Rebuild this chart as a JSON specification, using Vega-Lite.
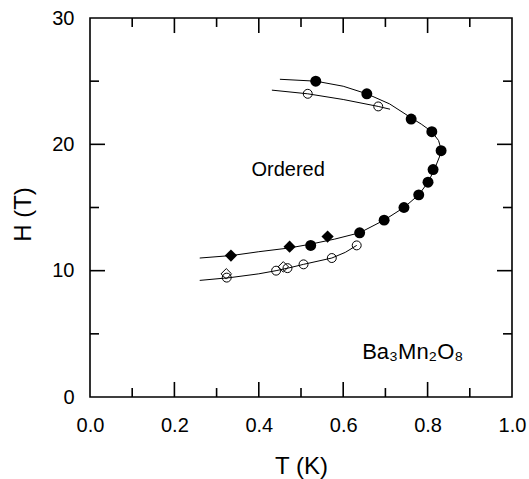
{
  "$schema": "https://vega.github.io/schema/vega-lite/v6.json",
  "width": 422,
  "height": 379,
  "autosize": "none",
  "padding": {"left": 90, "top": 18, "right": 17, "bottom": 82},
  "background": "white",
  "config": {
    "view": {"stroke": "black", "strokeWidth": 1.6},
    "axis": {
      "domain": false,
      "grid": false,
      "ticks": false,
      "labelColor": "black",
      "labelFont": "Liberation Sans",
      "labelFontSize": 20,
      "titleFont": "Liberation Sans",
      "titleFontSize": 24,
      "titleFontWeight": "normal",
      "titleColor": "black"
    }
  },
  "datasets": {
    "tickLines": [
      {"tick": "b0.1", "T": 0.1, "H": 0}, {"tick": "b0.1", "T": 0.1, "H": 0.71},
      {"tick": "b0.2", "T": 0.2, "H": 0}, {"tick": "b0.2", "T": 0.2, "H": 1.19},
      {"tick": "b0.3", "T": 0.3, "H": 0}, {"tick": "b0.3", "T": 0.3, "H": 0.71},
      {"tick": "b0.4", "T": 0.4, "H": 0}, {"tick": "b0.4", "T": 0.4, "H": 1.19},
      {"tick": "b0.5", "T": 0.5, "H": 0}, {"tick": "b0.5", "T": 0.5, "H": 0.71},
      {"tick": "b0.6", "T": 0.6, "H": 0}, {"tick": "b0.6", "T": 0.6, "H": 1.19},
      {"tick": "b0.7", "T": 0.7, "H": 0}, {"tick": "b0.7", "T": 0.7, "H": 0.71},
      {"tick": "b0.8", "T": 0.8, "H": 0}, {"tick": "b0.8", "T": 0.8, "H": 1.19},
      {"tick": "b0.9", "T": 0.9, "H": 0}, {"tick": "b0.9", "T": 0.9, "H": 0.71},
      {"tick": "t0.1", "T": 0.1, "H": 30}, {"tick": "t0.1", "T": 0.1, "H": 29.29},
      {"tick": "t0.2", "T": 0.2, "H": 30}, {"tick": "t0.2", "T": 0.2, "H": 28.81},
      {"tick": "t0.3", "T": 0.3, "H": 30}, {"tick": "t0.3", "T": 0.3, "H": 29.29},
      {"tick": "t0.4", "T": 0.4, "H": 30}, {"tick": "t0.4", "T": 0.4, "H": 28.81},
      {"tick": "t0.5", "T": 0.5, "H": 30}, {"tick": "t0.5", "T": 0.5, "H": 29.29},
      {"tick": "t0.6", "T": 0.6, "H": 30}, {"tick": "t0.6", "T": 0.6, "H": 28.81},
      {"tick": "t0.7", "T": 0.7, "H": 30}, {"tick": "t0.7", "T": 0.7, "H": 29.29},
      {"tick": "t0.8", "T": 0.8, "H": 30}, {"tick": "t0.8", "T": 0.8, "H": 28.81},
      {"tick": "t0.9", "T": 0.9, "H": 30}, {"tick": "t0.9", "T": 0.9, "H": 29.29},
      {"tick": "l5", "T": 0, "H": 5}, {"tick": "l5", "T": 0.0213, "H": 5},
      {"tick": "l10", "T": 0, "H": 10}, {"tick": "l10", "T": 0.0355, "H": 10},
      {"tick": "l15", "T": 0, "H": 15}, {"tick": "l15", "T": 0.0213, "H": 15},
      {"tick": "l20", "T": 0, "H": 20}, {"tick": "l20", "T": 0.0355, "H": 20},
      {"tick": "l25", "T": 0, "H": 25}, {"tick": "l25", "T": 0.0213, "H": 25},
      {"tick": "r5", "T": 1, "H": 5}, {"tick": "r5", "T": 0.9787, "H": 5},
      {"tick": "r10", "T": 1, "H": 10}, {"tick": "r10", "T": 0.9645, "H": 10},
      {"tick": "r15", "T": 1, "H": 15}, {"tick": "r15", "T": 0.9787, "H": 15},
      {"tick": "r20", "T": 1, "H": 20}, {"tick": "r20", "T": 0.9645, "H": 20},
      {"tick": "r25", "T": 1, "H": 25}, {"tick": "r25", "T": 0.9787, "H": 25}
    ],
    "curves": [
      {"curve": "upper", "T": 0.26, "H": 11.0},
      {"curve": "upper", "T": 0.336, "H": 11.2},
      {"curve": "upper", "T": 0.40, "H": 11.5},
      {"curve": "upper", "T": 0.473, "H": 11.8},
      {"curve": "upper", "T": 0.523, "H": 12.1},
      {"curve": "upper", "T": 0.58, "H": 12.5},
      {"curve": "upper", "T": 0.639, "H": 13.0},
      {"curve": "upper", "T": 0.697, "H": 14.0},
      {"curve": "upper", "T": 0.744, "H": 15.0},
      {"curve": "upper", "T": 0.779, "H": 16.0},
      {"curve": "upper", "T": 0.801, "H": 17.0},
      {"curve": "upper", "T": 0.816, "H": 18.0},
      {"curve": "upper", "T": 0.828, "H": 19.0},
      {"curve": "upper", "T": 0.832, "H": 19.6},
      {"curve": "upper", "T": 0.826, "H": 20.3},
      {"curve": "upper", "T": 0.810, "H": 21.0},
      {"curve": "upper", "T": 0.785, "H": 21.6},
      {"curve": "upper", "T": 0.761, "H": 22.1},
      {"curve": "upper", "T": 0.71, "H": 23.2},
      {"curve": "upper", "T": 0.656, "H": 24.0},
      {"curve": "upper", "T": 0.60, "H": 24.6},
      {"curve": "upper", "T": 0.535, "H": 25.0},
      {"curve": "upper", "T": 0.45, "H": 25.15},
      {"curve": "lower", "T": 0.26, "H": 9.23},
      {"curve": "lower", "T": 0.332, "H": 9.45},
      {"curve": "lower", "T": 0.40, "H": 9.75},
      {"curve": "lower", "T": 0.441, "H": 10.0},
      {"curve": "lower", "T": 0.474, "H": 10.24},
      {"curve": "lower", "T": 0.506, "H": 10.5},
      {"curve": "lower", "T": 0.573, "H": 11.0},
      {"curve": "lower", "T": 0.605, "H": 11.45},
      {"curve": "lower", "T": 0.632, "H": 12.0},
      {"curve": "top", "T": 0.431, "H": 24.29},
      {"curve": "top", "T": 0.516, "H": 24.0},
      {"curve": "top", "T": 0.60, "H": 23.55},
      {"curve": "top", "T": 0.683, "H": 23.0},
      {"curve": "top", "T": 0.711, "H": 22.78}
    ],
    "filledCircles": [
      {"T": 0.535, "H": 25.0},
      {"T": 0.656, "H": 24.0},
      {"T": 0.761, "H": 22.0},
      {"T": 0.810, "H": 21.0},
      {"T": 0.832, "H": 19.5},
      {"T": 0.813, "H": 18.0},
      {"T": 0.801, "H": 17.0},
      {"T": 0.779, "H": 16.0},
      {"T": 0.744, "H": 15.0},
      {"T": 0.697, "H": 14.0},
      {"T": 0.639, "H": 13.0},
      {"T": 0.523, "H": 12.0}
    ],
    "filledDiamonds": [
      {"T": 0.334, "H": 11.2},
      {"T": 0.473, "H": 11.9},
      {"T": 0.563, "H": 12.7}
    ],
    "openCircles": [
      {"T": 0.516, "H": 24.0},
      {"T": 0.683, "H": 23.0},
      {"T": 0.632, "H": 12.0},
      {"T": 0.573, "H": 11.0},
      {"T": 0.506, "H": 10.5},
      {"T": 0.468, "H": 10.2},
      {"T": 0.441, "H": 10.0},
      {"T": 0.324, "H": 9.45}
    ],
    "openDiamonds": [
      {"T": 0.323, "H": 9.75},
      {"T": 0.458, "H": 10.3}
    ],
    "labels": [
      {"T": 0.4695, "H": 17.5, "text": "Ordered"}
    ],
    "compound": [
      {"T": 0.645, "H": 3.0, "text": "Ba₃Mn₂O₈"}
    ]
  },
  "layer": [
    {
      "data": {"name": "curves"},
      "mark": {"type": "line", "color": "black", "strokeWidth": 1},
      "encoding": {
        "x": {
          "field": "T", "type": "quantitative",
          "scale": {"domain": [0, 1], "nice": false},
          "axis": {
            "orient": "bottom",
            "values": [0, 0.2, 0.4, 0.6, 0.8, 1.0],
            "format": ".1f",
            "labelPadding": 18,
            "labelFlush": false,
            "labelOverlap": false,
            "title": "T (K)",
            "titleX": 211,
            "titleY": 76,
            "titleBaseline": "alphabetic"
          }
        },
        "y": {
          "field": "H", "type": "quantitative",
          "scale": {"domain": [0, 30], "nice": false},
          "axis": {
            "orient": "left",
            "values": [0, 10, 20, 30],
            "labelPadding": 16,
            "labelFlush": false,
            "labelOverlap": false,
            "title": "H (T)",
            "titleX": -67,
            "titleY": 196,
            "titleAngle": -90,
            "titleAlign": "center",
            "titleBaseline": "middle"
          }
        },
        "detail": {"field": "curve"},
        "order": {"field": "H", "type": "quantitative"}
      }
    },
    {
      "data": {"name": "tickLines"},
      "mark": {"type": "line", "color": "black", "strokeWidth": 1.6, "strokeCap": "butt"},
      "encoding": {
        "x": {"field": "T", "type": "quantitative"},
        "y": {"field": "H", "type": "quantitative"},
        "detail": {"field": "tick"}
      }
    },
    {
      "data": {"name": "filledCircles"},
      "mark": {"type": "point", "shape": "circle", "filled": true, "color": "black", "size": 120, "opacity": 1},
      "encoding": {
        "x": {"field": "T", "type": "quantitative"},
        "y": {"field": "H", "type": "quantitative"}
      }
    },
    {
      "data": {"name": "openCircles"},
      "mark": {"type": "point", "shape": "circle", "filled": false, "color": "black", "strokeWidth": 1, "size": 80, "opacity": 1},
      "encoding": {
        "x": {"field": "T", "type": "quantitative"},
        "y": {"field": "H", "type": "quantitative"}
      }
    },
    {
      "data": {"name": "filledDiamonds"},
      "mark": {"type": "point", "shape": "diamond", "filled": true, "color": "black", "size": 150, "opacity": 1},
      "encoding": {
        "x": {"field": "T", "type": "quantitative"},
        "y": {"field": "H", "type": "quantitative"}
      }
    },
    {
      "data": {"name": "openDiamonds"},
      "mark": {"type": "point", "shape": "diamond", "filled": false, "color": "black", "strokeWidth": 1, "size": 110, "opacity": 1},
      "encoding": {
        "x": {"field": "T", "type": "quantitative"},
        "y": {"field": "H", "type": "quantitative"}
      }
    },
    {
      "data": {"name": "labels"},
      "mark": {"type": "text", "font": "Liberation Sans", "fontSize": 20, "color": "black", "align": "center", "baseline": "alphabetic"},
      "encoding": {
        "x": {"field": "T", "type": "quantitative"},
        "y": {"field": "H", "type": "quantitative"},
        "text": {"field": "text"}
      }
    },
    {
      "data": {"name": "compound"},
      "mark": {"type": "text", "font": "Liberation Sans", "fontSize": 22, "color": "black", "align": "left", "baseline": "alphabetic"},
      "encoding": {
        "x": {"field": "T", "type": "quantitative"},
        "y": {"field": "H", "type": "quantitative"},
        "text": {"field": "text"}
      }
    }
  ]
}
